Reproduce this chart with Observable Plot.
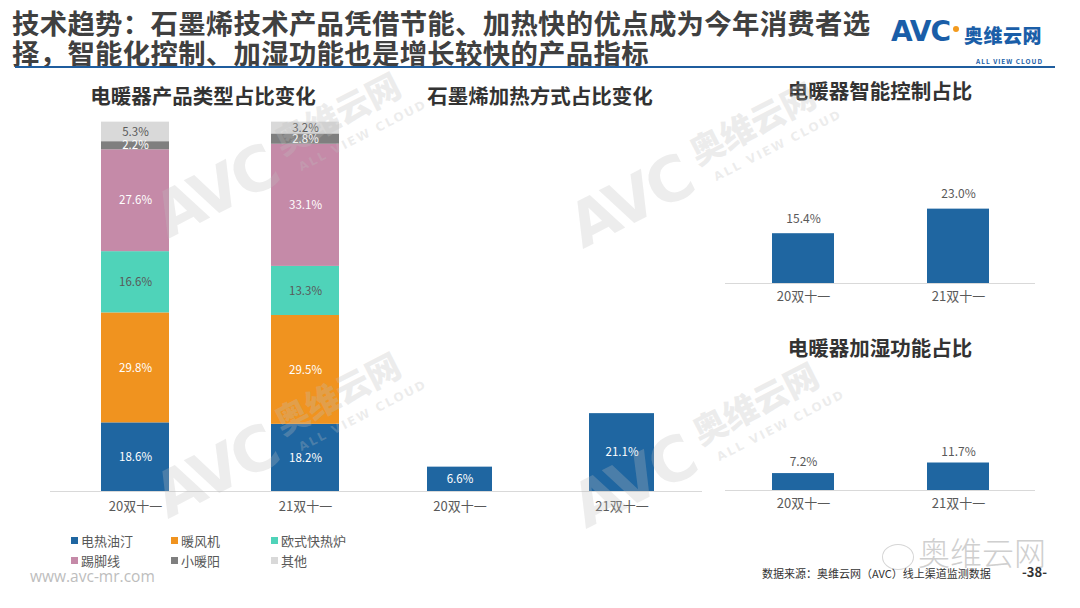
<!DOCTYPE html>
<html>
<head>
<meta charset="utf-8">
<script src="https://cdn.jsdelivr.net/npm/d3@7"></script>
<script src="https://cdn.jsdelivr.net/npm/@observablehq/plot@0.6"></script>
<style>
  html, body { margin: 0; padding: 0; background: #fff; }
  #slide { position: relative; width: 1080px; height: 608px; overflow: hidden; background: #fff;
           font-family: "Noto Sans CJK SC", "Noto Sans", sans-serif; }
  .abs { position: absolute; }
  .title { font-size: 27.4px; font-weight: 700; color: #404040; line-height: 30px; letter-spacing: 0.3px; white-space: nowrap; }
  .rule { width: 1040px; height: 2px; background: #1f5d9e; }
  .ptitle { font-size: 20.5px; font-weight: 700; color: #333; transform: translateX(-50%); white-space: nowrap; line-height: 26px; }
  .legend { font-size: 13px; color: #595959; }
  .legend .item { position: absolute; white-space: nowrap; line-height: 18px; }
  .legend .sw { display: inline-block; width: 7px; height: 7px; margin-right: 3px; vertical-align: 2px; }
  .wm { position: absolute; color: rgba(190,190,190,0.28); font-weight: 900; transform-origin: 0 0; transform: rotate(-27deg); white-space: nowrap; pointer-events: none; z-index: 5; }
</style>
</head>
<body>
<div id="slide"></div>
<script>
// ---------- data ----------
const periods = ["20双十一", "21双十一"];
const heaterTypes = ["电热油汀", "暖风机", "欧式快热炉", "踢脚线", "小暖阳", "其他"];
const typeShare20 = [18.6, 29.8, 16.6, 27.6, 2.2, 5.3];
const typeShare21 = [18.2, 29.5, 13.3, 33.1, 2.8, 3.2];
const typeColors = ["#1f66a1", "#f0931f", "#4fd3b9", "#c58aa8", "#7f7f7f", "#d9d9d9"];
const darkLabelTypes = ["欧式快热炉", "其他"];
const grapheneShare = [6.6, 21.1];
const smartShare = [15.4, 23.0];
const humidShare = [7.2, 11.7];

const titleLines = ["技术趋势：石墨烯技术产品凭借节能、加热快的优点成为今年消费者选", "择，智能化控制、加湿功能也是增长较快的产品指标"];
const panelTitles = ["电暖器产品类型占比变化", "石墨烯加热方式占比变化", "电暖器智能控制占比", "电暖器加湿功能占比"];
const sourceText = "数据来源：奥维云网（AVC）线上渠道监测数据";
const pageNo = "-38-";

const FONT = '"Noto Sans CJK SC", "Noto Sans", sans-serif';
const BLUE = "#1f66a1";
const fmt = v => v.toFixed(1) + "%";

const slide = document.getElementById("slide");
function place(el, left, top) {
  el.style.position = "absolute"; el.style.left = left + "px"; el.style.top = top + "px";
  slide.appendChild(el); return el;
}
function div(cls, html, left, top) {
  const d = document.createElement("div"); d.className = "abs " + cls; d.innerHTML = html;
  return place(d, left, top);
}

// ---------- header ----------
div("title", titleLines.join("<br>"), 12, 7);
div("rule", "", 15, 66);
// logo
div("", '<span style="font-family:\'DejaVu Sans\';font-weight:900;font-size:28px;color:#1a5ea8;letter-spacing:-1px;">AVC</span>', 891, 15);
div("", '<span style="display:block;width:6px;height:6px;border-radius:50%;background:#f39a1e;"></span>', 953, 26);
div("", '<span style="font-size:19px;font-weight:900;color:#1a5ea8;letter-spacing:0.5px;">奥维云网</span>', 964, 21);
div("", '<span style="font-size:6.5px;font-weight:700;color:#1a5ea8;letter-spacing:1px;">ALL VIEW CLOUD</span>', 976, 45);

// ---------- panel titles ----------
div("ptitle", panelTitles[0], 203, 82);
div("ptitle", panelTitles[1], 540, 82);
div("ptitle", panelTitles[2], 880, 77);
div("ptitle", panelTitles[3], 880, 334);

const baseStyle = { fontFamily: FONT, fontSize: "13px", color: "#595959", background: "transparent", overflow: "visible" };

// ---------- panel 1: stacked type share ----------
const typeRows = [];
periods.forEach((p, i) => {
  const vals = i === 0 ? typeShare20 : typeShare21;
  heaterTypes.forEach((t, j) => typeRows.push({ period: p, type: t, value: vals[j] }));
});
const p1 = Plot.plot({
  width: 340, height: 409, marginTop: 10, marginBottom: 30, marginLeft: 0, marginRight: 0,
  style: baseStyle,
  x: { domain: periods, paddingInner: 0.6, paddingOuter: 0.3, label: null, tickSize: 0, tickPadding: 10 },
  y: { domain: [0, 100], axis: null },
  color: { domain: heaterTypes, range: typeColors },
  marks: [
    Plot.ruleY([0], { stroke: "#d9d9d9", strokeWidth: 1 }),
    Plot.barY(typeRows, { x: "period", y: "value", fill: "type" }),
    Plot.text(typeRows, Plot.stackY({ x: "period", y: "value", z: "type",
      text: d => darkLabelTypes.includes(d.type) ? "" : fmt(d.value), fill: "#ffffff", fontSize: 11.5 })),
    Plot.text(typeRows, Plot.stackY({ x: "period", y: "value", z: "type",
      text: d => darkLabelTypes.includes(d.type) ? fmt(d.value) : "", fill: "#595959", fontSize: 11.5 }))
  ]
});
place(p1, 50, 112);

// legend
const legend = document.createElement("div"); legend.className = "legend";
heaterTypes.forEach((t, j) => {
  const it = document.createElement("div"); it.className = "item";
  it.style.left = (71 + (j % 3) * 100) + "px"; it.style.top = (532 + Math.floor(j / 3) * 20) + "px";
  it.innerHTML = '<span class="sw" style="background:' + typeColors[j] + '"></span>' + t;
  legend.appendChild(it);
});
slide.appendChild(legend);
div("", '<span style="font-family:\'Open Sans\',sans-serif;font-size:15.5px;color:#bdbdbd;">www.avc-mr.com</span>', 30, 563);

// ---------- panel 2: graphene ----------
const grRows = periods.map((p, i) => ({ period: p, value: grapheneShare[i] }));
const p2 = Plot.plot({
  width: 324, height: 409, marginTop: 10, marginBottom: 30, marginLeft: 0, marginRight: 0,
  style: baseStyle,
  x: { domain: periods, paddingInner: 0.6, paddingOuter: 0.3, label: null, tickSize: 0, tickPadding: 10 },
  y: { domain: [0, 100], axis: null },
  marks: [
    Plot.ruleY([0], { stroke: "#d9d9d9", strokeWidth: 1 }),
    Plot.barY(grRows, { x: "period", y: "value", fill: BLUE }),
    Plot.text(grRows, Plot.stackY({ x: "period", y: "value", text: d => fmt(d.value), fill: "#ffffff", fontSize: 11.5 }))
  ]
});
place(p2, 378, 112);

// ---------- panels 3 & 4 ----------
function smallBars(vals, maxY, innerH, dy) {
  const rows = periods.map((p, i) => ({ period: p, value: vals[i] }));
  return Plot.plot({
    width: 310, height: innerH + 40, marginTop: 10, marginBottom: 30, marginLeft: 0, marginRight: 0,
    style: baseStyle,
    x: { domain: periods, paddingInner: 0.6, paddingOuter: 0.3, label: null, tickSize: 0, tickPadding: 8 },
    y: { domain: [0, maxY], axis: null },
    marks: [
      Plot.ruleY([0], { stroke: "#d9d9d9", strokeWidth: 1 }),
      Plot.barY(rows, { x: "period", y: "value", fill: BLUE }),
      Plot.text(rows, { x: "period", y: "value", text: d => fmt(d.value), dy: dy, fill: "#595959", fontSize: 12 })
    ]
  });
}
place(smallBars(smartShare, 30, 97, -15), 725, 176);
place(smallBars(humidShare, 20, 47, -11), 725, 433);

// ---------- footer ----------
div("", '<span style="font-size:32px;font-weight:300;color:#cfcfcf;">奥维云网</span>', 918, 528);
div("", '<span style="display:block;width:30px;height:24px;border:1.5px solid #d6d6d6;border-radius:50%;"></span>', 882, 544);
div("", '<span style="font-size:11px;color:#333;">' + sourceText + '</span>', 762, 559);
div("", '<span style="font-size:13px;color:#333;font-weight:700;">' + pageNo + '</span>', 1022, 558);

// ---------- watermarks ----------
function watermark(x, y) {
  const a = document.createElement("div"); a.className = "wm";
  a.style.left = x + "px"; a.style.top = y + "px";
  a.innerHTML = '<span style="font-family:\'DejaVu Sans\';font-size:62px;letter-spacing:-3px;">AVC</span>' +
    '<span style="font-size:34px;margin-left:12px;vertical-align:22px;">奥维云网</span>' +
    '<div style="position:absolute;left:150px;top:50px;font-family:\'DejaVu Sans\';font-size:12px;font-weight:700;letter-spacing:2px;">ALL VIEW CLOUD</div>';
  slide.appendChild(a);
}
watermark(140, 185);
watermark(555, 195);
watermark(140, 465);
watermark(558, 475);
</script>
</body>
</html>
